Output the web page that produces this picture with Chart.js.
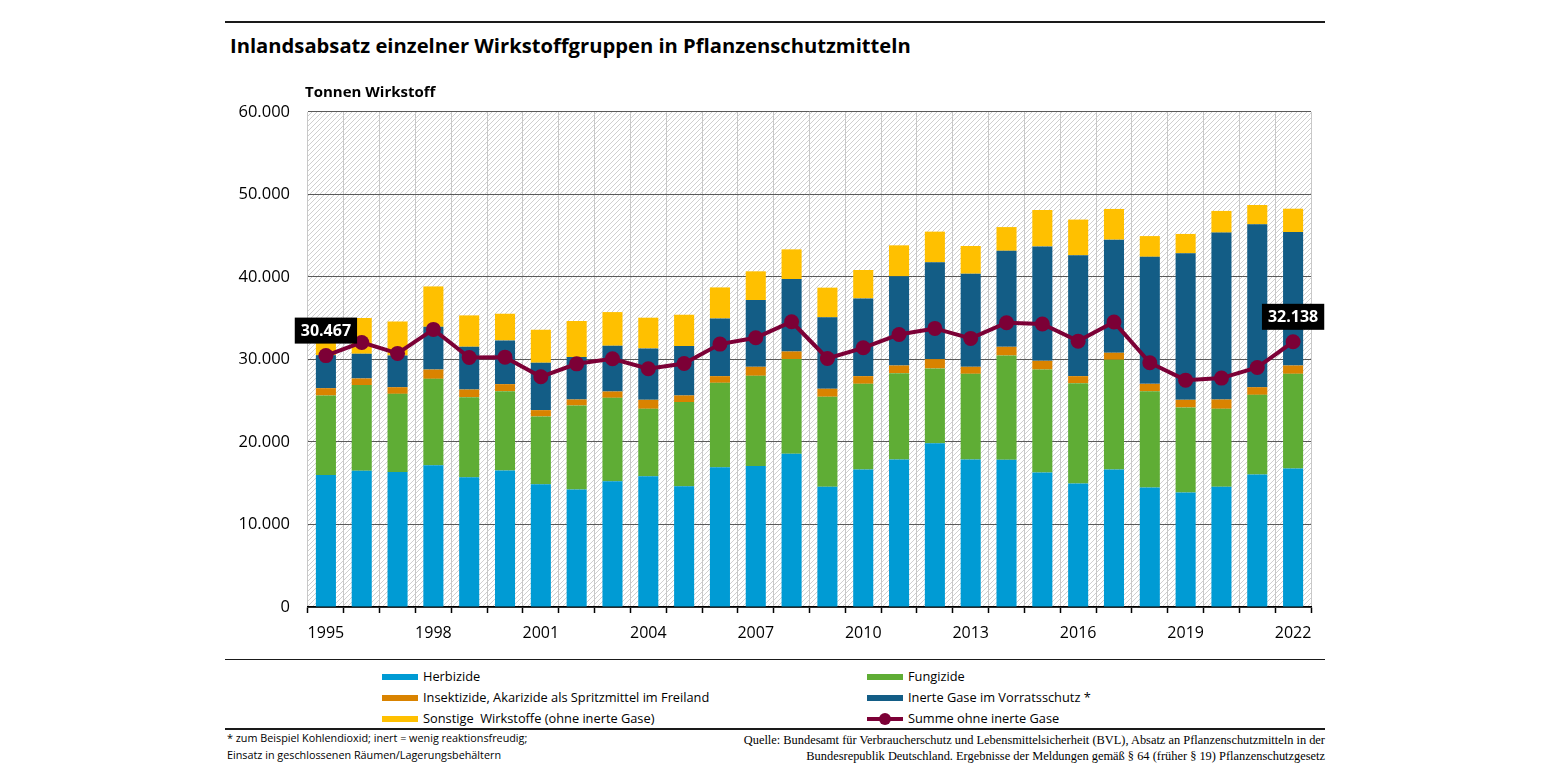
<!DOCTYPE html>
<html lang="de">
<head>
<meta charset="utf-8">
<script src="https://cdn.jsdelivr.net/npm/chart.js@4.4.1/dist/chart.umd.min.js"></script>
<style>
    body { margin: 0; width: 1545px; height: 775px; background: #fff; position: relative; font-family: 'Open Sans', sans-serif; color: #000; overflow: hidden; }
    .abs { position: absolute; }
    .rule { position: absolute; left: 225px; width: 1100px; background: #1a1a1a; }
    #title { left: 230px; top: 31px; font-size: 20.2px; font-weight: bold; white-space: nowrap; }
    #unit { left: 305px; top: 81px; font-size: 15px; font-weight: bold; }
    #chartBox { left: 225px; top: 84px; width: 1100px; height: 566px; }
    .leg { position: absolute; font-size: 12.8px; white-space: nowrap; line-height: 16px; }
    .sw { position: absolute; width: 36px; height: 6px; }
    .note { position: absolute; top: 729px; font-size: 10.8px; line-height: 17px; white-space: nowrap; }
    #noteR { font-family: 'Liberation Serif', serif; font-size: 12.4px; line-height: 16px; text-align: right; right: 220px; top: 732px; }
</style>
</head>
<body>
<div class="rule" style="top:21px;height:2px;"></div>
<div class="abs" id="title">Inlandsabsatz einzelner Wirkstoffgruppen in Pflanzenschutzmitteln</div>
<div class="abs" id="chartBox"><canvas id="chart"></canvas></div>
<div class="abs" id="unit">Tonnen Wirkstoff</div>
<div class="rule" style="top:659px;height:1px;"></div>
<div id="legend"></div>
<div class="rule" style="top:728px;height:2px;"></div>
<div class="note" style="left:227px;">* zum Beispiel Kohlendioxid; inert = wenig reaktionsfreudig;<br>Einsatz in geschlossenen Räumen/Lagerungsbehältern</div>
<div class="note" id="noteR">Quelle: Bundesamt für Verbraucherschutz und Lebensmittelsicherheit (BVL), Absatz an Pflanzenschutzmitteln in der<br>Bundesrepublik Deutschland. Ergebnisse der Meldungen gemäß § 64 (früher § 19) Pflanzenschutzgesetz</div>

<script>
// Jahre
const years = ['1995', '1996', '1997', '1998', '1999', '2000', '2001', '2002', '2003', '2004',
    '2005', '2006', '2007', '2008', '2009', '2010', '2011', '2012', '2013', '2014',
    '2015', '2016', '2017', '2018', '2019', '2020', '2021', '2022'];

// Tonnen Wirkstoff
const herbizide = [16010, 16500, 16370, 17180, 15730, 16540, 14880, 14230, 15240, 15850,
    14640, 16940, 17100, 18560, 14560, 16660, 17870, 19850, 17870, 17830,
    16290, 14960, 16660, 14470, 13870, 14560, 16050, 16780];
const fungizide = [9620, 10390, 9460, 10470, 9700, 9620, 8210, 10190, 10110, 8170,
    10190, 10230, 10920, 11480, 10920, 10390, 10470, 9060, 10390, 12650,
    12490, 12170, 13300, 11680, 10310, 9460, 9660, 11480];
const insektizide = [890, 810, 810, 1130, 930, 850, 770, 730, 770, 1090,
    810, 810, 1090, 930, 970, 930, 930, 1130, 850, 1050,
    1050, 850, 850, 890, 930, 1130, 930, 1010];
const inerteGase = [4000, 2990, 3840, 5180, 5180, 5300, 5740, 5140, 5540, 6230,
    5980, 6990, 8090, 8770, 8650, 9420, 10800, 11730, 11280, 11640,
    13870, 14640, 13710, 15400, 17750, 20220, 19730, 16170];
const sonstige = [3950, 4330, 4120, 4890, 3800, 3230, 4000, 4370, 4080, 3720,
    3800, 3760, 3480, 3600, 3600, 3440, 3760, 3720, 3360, 2870,
    4410, 4330, 3720, 2510, 2350, 2630, 2350, 2830];
const summe = [30467, 32060, 30730, 33640, 30240, 30280, 27900, 29470, 30080, 28870,
    29510, 31860, 32630, 34570, 30120, 31410, 33030, 33760, 32550, 34450,
    34290, 32220, 34530, 29600, 27490, 27740, 29030, 32138];

const yTicks = [0, 10000, 20000, 30000, 40000, 50000, 60000];
const labelIdx = [0, 27]; // Werte mit Beschriftung

const colors = {
    herb: '#009bd4',
    fung: '#5fad35',
    insekt: '#d98300',
    inert: '#135d86',
    sonst: '#ffc000',
    summe: '#7c0036'
};

const fmt = v => Number(v).toLocaleString('de-DE');

// Legende
const legendItems = [
    { text: 'Herbizide', color: colors.herb, x: 382, y: 677 },
    { text: 'Fungizide', color: colors.fung, x: 867, y: 677 },
    { text: 'Insektizide, Akarizide als Spritzmittel im Freiland', color: colors.insekt, x: 382, y: 698 },
    { text: 'Inerte Gase im Vorratsschutz *', color: colors.inert, x: 867, y: 698 },
    { text: 'Sonstige  Wirkstoffe (ohne inerte Gase)', color: colors.sonst, x: 382, y: 719 },
    { text: 'Summe ohne inerte Gase', color: colors.summe, x: 867, y: 719, line: true }
];
const legendEl = document.getElementById('legend');
legendItems.forEach(item => {
    if (item.line) {
        legendEl.insertAdjacentHTML('beforeend',
            `<div class="sw" style="left:${item.x}px;top:${item.y - 2}px;height:4px;background:${item.color}"></div>` +
            `<div class="abs" style="left:${item.x + 12}px;top:${item.y - 6}px;width:12px;height:12px;border-radius:6px;background:${item.color}"></div>`);
    } else {
        legendEl.insertAdjacentHTML('beforeend',
            `<div class="sw" style="left:${item.x}px;top:${item.y - 3}px;background:${item.color}"></div>`);
    }
    legendEl.insertAdjacentHTML('beforeend',
        `<div class="leg" style="left:${item.x + 41}px;top:${item.y - 9}px">${item.text.replace(/  /g, ' &nbsp;')}</div>`);
});

// schraffierter Hintergrund
function makeHatch() {
    const c = document.createElement('canvas');
    c.width = 5; c.height = 5;
    const g = c.getContext('2d');
    g.fillStyle = '#ffffff';
    g.fillRect(0, 0, 5, 5);
    g.strokeStyle = '#cfcfcf';
    g.lineWidth = 1;
    g.beginPath();
    g.moveTo(-1, 6); g.lineTo(6, -1);
    g.moveTo(-1, 1); g.lineTo(1, -1);
    g.moveTo(4, 6); g.lineTo(6, 4);
    g.stroke();
    return c;
}

const hatchPlugin = {
    id: 'hatch',
    beforeDraw(chart) {
        const { ctx, chartArea: a } = chart;
        ctx.save();
        ctx.fillStyle = ctx.createPattern(makeHatch(), 'repeat');
        ctx.fillRect(a.left, a.top, a.right - a.left, a.bottom - a.top);
        ctx.restore();
    }
};

const valueLabelPlugin = {
    id: 'valueLabels',
    afterDatasetsDraw(chart) {
        const ctx = chart.ctx;
        const meta = chart.getDatasetMeta(5);
        ctx.save();
        ctx.font = 'bold 16px "Open Sans", sans-serif';
        ctx.textAlign = 'center';
        ctx.textBaseline = 'middle';
        labelIdx.forEach(i => {
            const pt = meta.data[i];
            const text = fmt(summe[i]);
            const w = ctx.measureText(text).width + 12;
            const cy = pt.y - 25;
            ctx.fillStyle = '#000';
            ctx.fillRect(pt.x - w / 2, cy - 13, w, 26);
            ctx.fillStyle = '#fff';
            ctx.fillText(text, pt.x, cy + 1);
        });
        ctx.restore();
    }
};

Chart.defaults.font.family = "'Open Sans', sans-serif";
Chart.defaults.color = '#000';

const barDefaults = { stack: 'a', order: 1, barPercentage: 0.56, categoryPercentage: 1 };

new Chart(document.getElementById('chart'), {
    type: 'bar',
    data: {
        labels: years,
        datasets: [
            { label: 'Herbizide', data: herbizide, backgroundColor: colors.herb, ...barDefaults },
            { label: 'Fungizide', data: fungizide, backgroundColor: colors.fung, ...barDefaults },
            { label: 'Insektizide', data: insektizide, backgroundColor: colors.insekt, ...barDefaults },
            { label: 'Inerte Gase', data: inerteGase, backgroundColor: colors.inert, ...barDefaults },
            { label: 'Sonstige', data: sonstige, backgroundColor: colors.sonst, ...barDefaults },
            {
                type: 'line',
                label: 'Summe ohne inerte Gase',
                data: summe,
                stack: 'summe',
                order: 0,
                borderColor: colors.summe,
                backgroundColor: colors.summe,
                borderWidth: 4,
                pointRadius: 7.5,
                pointBorderWidth: 0,
                pointBackgroundColor: colors.summe,
                tension: 0
            }
        ]
    },
    options: {
        responsive: true,
        maintainAspectRatio: false,
        animation: false,
        layout: { padding: { top: 0, right: 14, left: 0, bottom: 0 } },
        plugins: {
            legend: { display: false },
            tooltip: { enabled: false }
        },
        scales: {
            x: {
                stacked: true,
                offset: true,
                grid: { offset: true, color: '#c8c8c8', tickColor: '#000', tickLength: 6, tickWidth: 1.5 },
                border: { color: '#000', width: 1.5 },
                ticks: {
                    autoSkip: false,
                    maxRotation: 0,
                    padding: 11,
                    font: { size: 16 },
                    callback: function (value, index) {
                        return index % 3 === 0 ? years[index] : '';
                    }
                },
                afterFit: scale => { scale.height = 43; }
            },
            y: {
                stacked: true,
                min: 0,
                max: 60000,
                afterBuildTicks: scale => { scale.ticks = yTicks.map(v => ({ value: v })); },
                grid: { color: '#5a5a5a', drawTicks: false },
                border: { display: false },
                ticks: {
                    padding: 18,
                    font: { size: 16.5 },
                    callback: value => fmt(value)
                },
                afterFit: scale => { scale.width = 83; }
            }
        }
    },
    plugins: [hatchPlugin, valueLabelPlugin]
});
</script>
</body>
</html>
